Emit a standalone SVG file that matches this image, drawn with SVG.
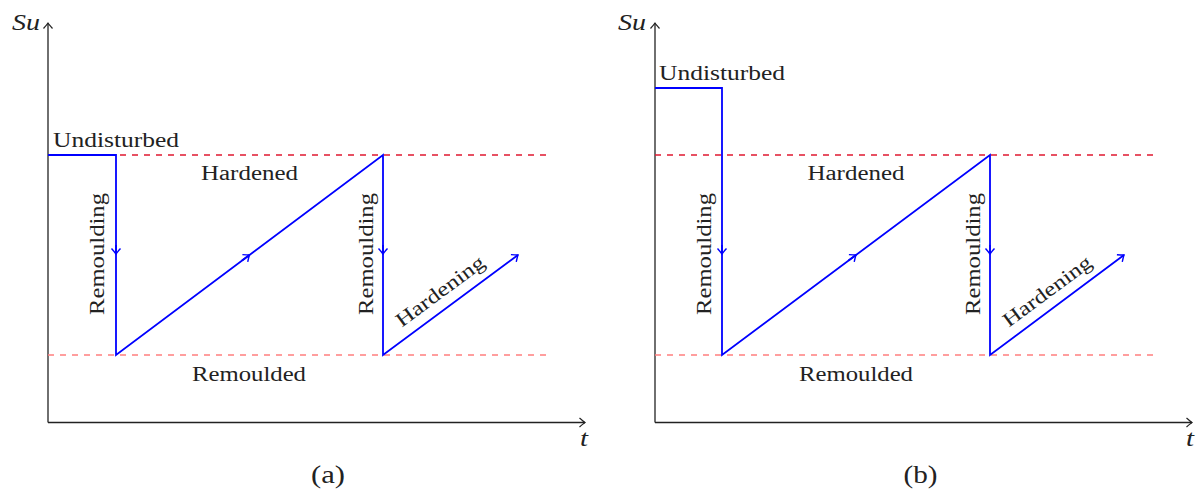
<svg xmlns="http://www.w3.org/2000/svg" width="1196" height="493" viewBox="0 0 1196 493">
<style>
.ax{stroke:#222;stroke-width:1.3;fill:none}
.bl{stroke:#0000ff;stroke-width:1.8;fill:none;stroke-linejoin:miter}
.dr{stroke:#e01830;stroke-width:1.3;stroke-dasharray:6 6;fill:none}
.dl{stroke:#ff7f7f;stroke-width:1.5;stroke-dasharray:6 6;fill:none}
.t{font-family:"Liberation Serif","Times New Roman",serif;font-size:20px;fill:#222}
.i{font-style:italic;font-size:23px}
.c{font-size:25px}
</style>
<defs>
<marker id="ak" markerWidth="12" markerHeight="12" refX="0" refY="0" viewBox="-8 -6 10 12" orient="auto" markerUnits="userSpaceOnUse">
<path d="M-5.5,-4.5 Q-1.5,-1 0,0 Q-1.5,1 -5.5,4.5" fill="none" stroke="#222" stroke-width="1.2"/>
</marker>
<marker id="ab" markerWidth="12" markerHeight="12" refX="0" refY="0" viewBox="-8 -6 10 12" orient="auto" markerUnits="userSpaceOnUse">
<path d="M-5.5,-4.5 Q-1.5,-1 0,0 Q-1.5,1 -5.5,4.5" fill="none" stroke="#0000ff" stroke-width="1.4"/>
</marker>
</defs>

<g id="panel-a">
<g id="axes-a">
<line class="ax" x1="48" y1="422.5" x2="48" y2="23" marker-end="url(#ak)"/>
<line class="ax" x1="48" y1="422.5" x2="585" y2="422.5" marker-end="url(#ak)"/>
<text class="t i" x="12" y="30" textLength="28" lengthAdjust="spacingAndGlyphs">Su</text>
<text class="t i" x="580" y="446" textLength="8" lengthAdjust="spacingAndGlyphs">t</text>
</g>
<g id="levels-a">
<line class="dr" x1="48" y1="155" x2="548" y2="155"/>
<line class="dl" x1="48" y1="355" x2="548" y2="355"/>
</g>
<g id="connectors-a">
<path class="bl" d="M48,155 H116 V355 L383,155 V355 L518,255" marker-end="url(#ab)"/>
<path class="bl" d="M116,245 L116,254" marker-end="url(#ab)"/>
<path class="bl" d="M242,260.5 L249.5,255" marker-end="url(#ab)"/>
<path class="bl" d="M383,245 L383,254" marker-end="url(#ab)"/>
</g>
<g id="labels-a">
<text class="t" x="53" y="147" textLength="126" lengthAdjust="spacingAndGlyphs">Undisturbed</text>
<text class="t" x="249.5" y="180" text-anchor="middle" textLength="97" lengthAdjust="spacingAndGlyphs">Hardened</text>
<text class="t" x="249" y="381" text-anchor="middle" textLength="114" lengthAdjust="spacingAndGlyphs">Remoulded</text>
<text class="t" transform="translate(103.5,315) rotate(-90)" textLength="122" lengthAdjust="spacingAndGlyphs">Remoulding</text>
<text class="t" transform="translate(372.5,315) rotate(-90)" textLength="122" lengthAdjust="spacingAndGlyphs">Remoulding</text>
<text class="t" transform="translate(444,296.4) rotate(-36.5)" text-anchor="middle" textLength="105" lengthAdjust="spacingAndGlyphs">Hardening</text>
<text class="t c" x="311" y="483" textLength="34" lengthAdjust="spacingAndGlyphs">(a)</text>
</g>
</g>

<g id="panel-b">
<g id="axes-b">
<line class="ax" x1="655" y1="422.5" x2="655" y2="23" marker-end="url(#ak)"/>
<line class="ax" x1="655" y1="422.5" x2="1192" y2="422.5" marker-end="url(#ak)"/>
<text class="t i" x="618" y="30" textLength="28" lengthAdjust="spacingAndGlyphs">Su</text>
<text class="t i" x="1186" y="446" textLength="8" lengthAdjust="spacingAndGlyphs">t</text>
</g>
<g id="levels-b">
<line class="dr" x1="655" y1="155" x2="1157" y2="155"/>
<line class="dl" x1="655" y1="355" x2="1157" y2="355"/>
</g>
<g id="connectors-b">
<path class="bl" d="M655,88 H722 V355 L990,155 V355 L1124,255" marker-end="url(#ab)"/>
<path class="bl" d="M722,245 L722,254" marker-end="url(#ab)"/>
<path class="bl" d="M848.5,260.5 L856,255" marker-end="url(#ab)"/>
<path class="bl" d="M990,245 L990,254" marker-end="url(#ab)"/>
</g>
<g id="labels-b">
<text class="t" x="659" y="80" textLength="126" lengthAdjust="spacingAndGlyphs">Undisturbed</text>
<text class="t" x="856" y="180" text-anchor="middle" textLength="97" lengthAdjust="spacingAndGlyphs">Hardened</text>
<text class="t" x="856" y="381" text-anchor="middle" textLength="114" lengthAdjust="spacingAndGlyphs">Remoulded</text>
<text class="t" transform="translate(710.5,315) rotate(-90)" textLength="122" lengthAdjust="spacingAndGlyphs">Remoulding</text>
<text class="t" transform="translate(979.5,315) rotate(-90)" textLength="122" lengthAdjust="spacingAndGlyphs">Remoulding</text>
<text class="t" transform="translate(1051,296.4) rotate(-36.5)" text-anchor="middle" textLength="105" lengthAdjust="spacingAndGlyphs">Hardening</text>
<text class="t c" x="903.5" y="483" textLength="34" lengthAdjust="spacingAndGlyphs">(b)</text>
</g>
</g>
</svg>
